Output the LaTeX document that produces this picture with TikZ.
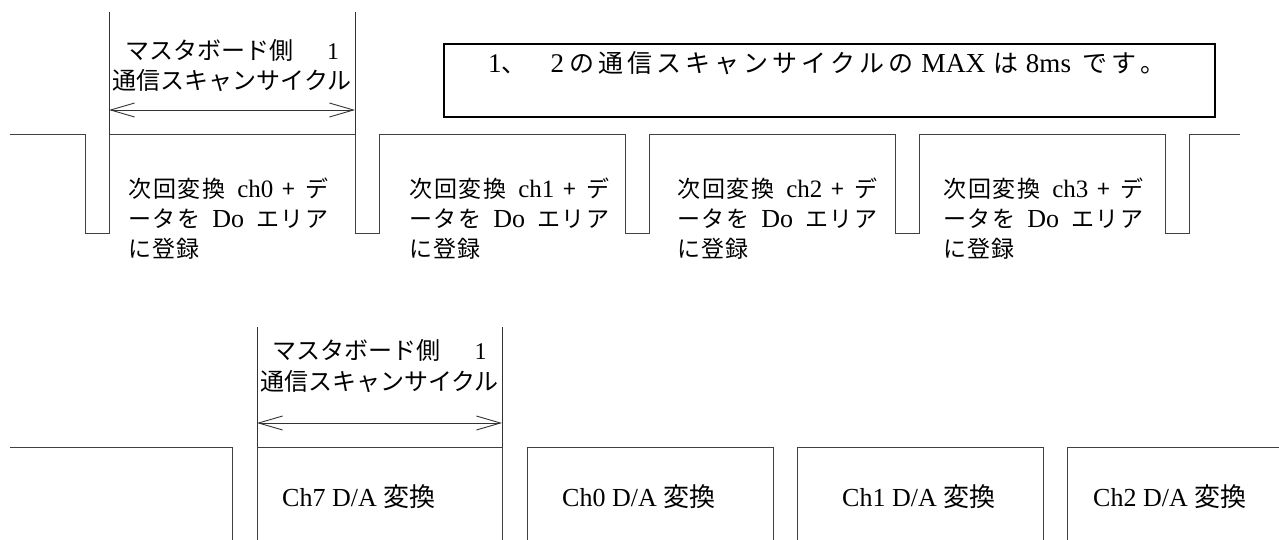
\documentclass[tikz,border=0pt]{standalone}
\usepackage{fontspec}
\setmainfont{Liberation Serif}
\newfontfamily\jp{Noto Sans CJK JP}
\usetikzlibrary{arrows.meta}
\newdimen\jpk
\jpk=1pt
% spaced Japanese characters (glue between characters)
\def\spj#1{\spjfirst#1\relax}
\def\spjfirst#1{{\jp #1}\spjnext}
\def\spjnext#1{\ifx\relax#1\else\hskip\jpk plus 0.25fil\relax{\jp #1}\expandafter\spjnext\fi}
\newcommand\wgap[1]{\hskip #1 plus 0.4fil\relax}
\begin{document}
\begin{tikzpicture}[x=1pt,y=-1pt,
  wave/.style={line width=1pt, draw=black!75},
  marker/.style={line width=1pt, draw=black!80},
  dimarrow/.style={line width=0.9pt, draw=black!80,
    {Straight Barb[length=24pt,width=14pt]}-{Straight Barb[length=24pt,width=14pt]}},
  lbl/.style={inner sep=0pt, font=\fontsize{24pt}{28pt}\selectfont},
  body/.style={inner sep=0pt, anchor=base west, align=left, font=\fontsize{23pt}{29.5pt}\selectfont},
  chtxt/.style={inner sep=0pt, anchor=west, font=\fontsize{26pt}{30pt}\selectfont},
  note/.style={draw=black, line width=1.8pt, inner sep=0pt}
]
\useasboundingbox (0,0) rectangle (1279,540);

% ---------- top waveform ----------
\draw[wave] (10,135) -- (85,135) -- (85,233) -- (109,233) -- (109,135)
  -- (355,135) -- (355,233) -- (379,233) -- (379,135)
  -- (625,135) -- (625,233) -- (649,233) -- (649,135)
  -- (895,135) -- (895,233) -- (919,233) -- (919,135)
  -- (1165,135) -- (1165,233) -- (1189,233) -- (1189,135) -- (1240,135);

% markers and dimension arrow (top)
\coordinate (mA1) at (109,12);
\coordinate (mA2) at (355,12);
\coordinate (mA1b) at (109,135);
\coordinate (mA2b) at (355,135);
\coordinate (aA1) at (109,110);
\coordinate (aA2) at (355,110);
\draw[marker] (mA1) -- (mA1b);
\draw[marker] (mA2) -- (mA2b);
\draw[dimarrow] (aA1) -- (aA2);
\node[lbl] (labA1) at (232,50) {{\jp マスタボード側}\hspace{34pt}1};
\node[lbl] (labA2) at (232,81) {\jp 通信スキャンサイクル};

% note box
\draw[note] (444,44) rectangle (1215,117);
\node[inner sep=0pt, anchor=west, font=\fontsize{25pt}{30pt}\selectfont] (notetxt) at (488,63)
  {\jpk=2pt\makebox[677pt][s]{{\fontsize{27pt}{30pt}\selectfont 1}{\jp 、}\hspace{24pt}{\fontsize{27pt}{30pt}\selectfont 2}\hskip 3pt plus 0.25fil\relax\spj{の通信スキャンサイクルの}\wgap{5pt}{\fontsize{27.5pt}{30pt}\selectfont MAX}\wgap{5pt}\spj{は}\wgap{4pt}{\fontsize{27pt}{30pt}\selectfont 8ms}\wgap{8pt}\spj{です。}}};

% body texts
\newcommand\bodytext[1]{%
  \makebox[200pt][s]{\spj{次回変換}\hskip 8pt plus 1fil\relax{\fontsize{25pt}{29.5pt}\selectfont #1}\hskip 6pt plus 1fil\relax{\jp +}\hskip 6pt plus 1fil\relax\spj{デ}}\\
  \makebox[200pt][s]{\spj{ータを}\hskip 10pt plus 1fil\relax{\fontsize{26pt}{29.5pt}\selectfont Do}\hskip 10pt plus 1fil\relax\spj{エリア}}\\
  \mbox{\spj{に登録}}}
\node[body] (t0) at (128,257) {\bodytext{ch0}};
\node[body] (t1) at (409,257) {\bodytext{ch1}};
\node[body] (t2) at (677,257) {\bodytext{ch2}};
\node[body] (t3) at (943,257) {\bodytext{ch3}};

% ---------- bottom waveform ----------
\draw[wave] (10,447) -- (232,447) -- (232,540);
\draw[wave] (257,540) -- (257,447) -- (502,447) -- (502,540);
\draw[wave] (527,540) -- (527,447) -- (773,447) -- (773,540);
\draw[wave] (797,540) -- (797,447) -- (1043,447) -- (1043,540);
\draw[wave] (1067,540) -- (1067,447) -- (1279,447);

% markers and dimension arrow (bottom)
\coordinate (mB1) at (257,327);
\coordinate (mB2) at (502,327);
\coordinate (mB1b) at (257,447);
\coordinate (mB2b) at (502,447);
\coordinate (aB1) at (257,423);
\coordinate (aB2) at (502,423);
\draw[marker] (mB1) -- (mB1b);
\draw[marker] (mB2) -- (mB2b);
\draw[dimarrow] (aB1) -- (aB2);
\node[lbl] (labB1) at (379.5,350) {{\jp マスタボード側}\hspace{34pt}1};
\node[lbl] (labB2) at (379.5,382) {\jp 通信スキャンサイクル};

% channel texts
\node[chtxt] (c7) at (282,497) {Ch7 D/A {\jp 変換}};
\node[chtxt] (c0) at (562,497) {Ch0 D/A {\jp 変換}};
\node[chtxt] (c1) at (842,497) {Ch1 D/A {\jp 変換}};
\node[chtxt] (c2) at (1093,497) {Ch2 D/A {\jp 変換}};
\end{tikzpicture}
\end{document}
